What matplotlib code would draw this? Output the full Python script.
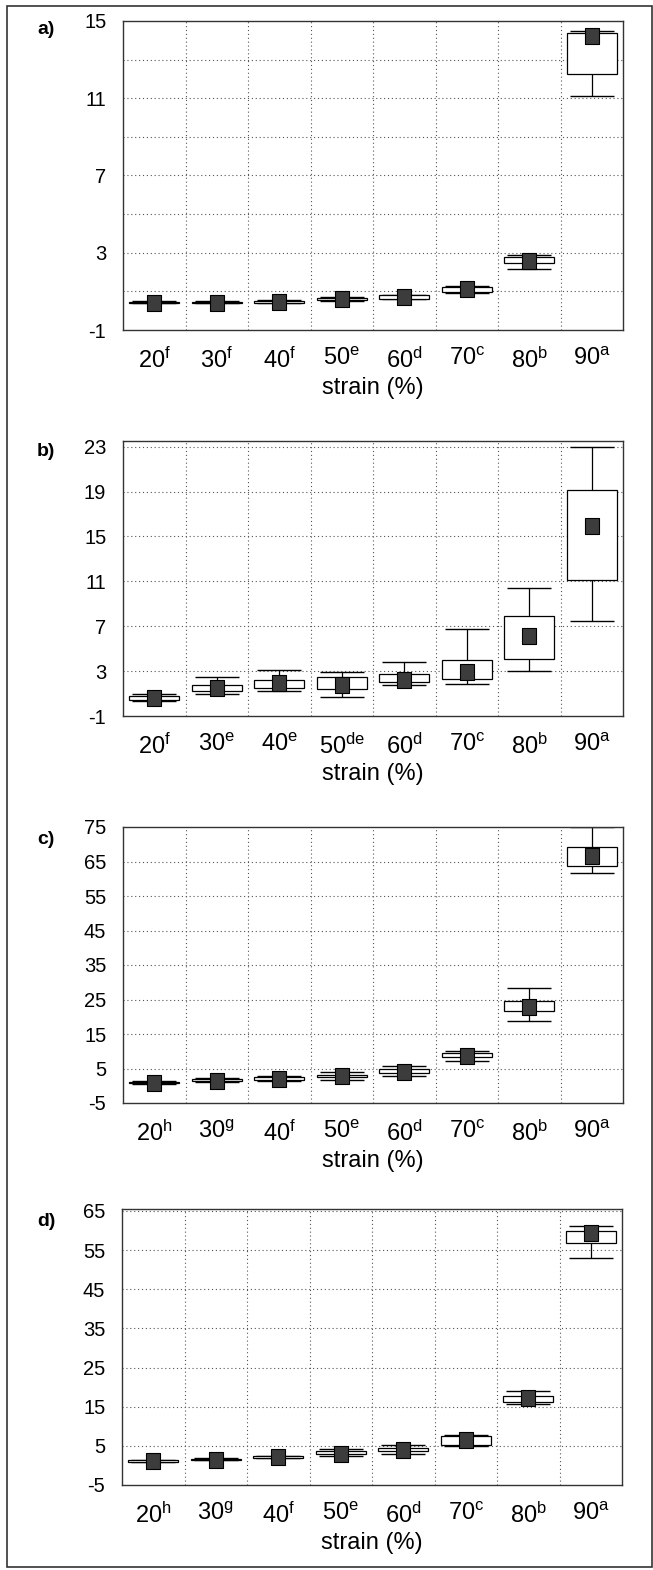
import matplotlib
matplotlib.use("Agg")
import matplotlib.pyplot as plt
from matplotlib.patches import Rectangle

# ---------------- data ----------------
cats = [20, 30, 40, 50, 60, 70, 80, 90]

letters_a = ["f", "f", "f", "e", "d", "c", "b", "a"]
mean_a   = [0.42, 0.42, 0.44, 0.62, 0.72, 1.12, 2.59, 14.2]
box_lo_a = [0.40, 0.40, 0.40, 0.53, 0.62, 0.95, 2.48, 12.26]
box_hi_a = [0.46, 0.46, 0.52, 0.66, 0.79, 1.23, 2.79, 14.4]
wlo_a    = [0.38, 0.38, 0.38, 0.50, 0.58, 0.90, 2.18, 11.1]
whi_a    = [0.48, 0.48, 0.55, 0.70, 0.82, 1.30, 2.90, 14.5]

letters_b = ["f", "e", "e", "de", "d", "c", "b", "a"]
mean_b   = [0.58, 1.52, 1.95, 1.75, 2.20, 2.95, 6.10, 15.9]
box_lo_b = [0.45, 1.20, 1.47, 1.40, 2.00, 2.32, 4.05, 11.15]
box_hi_b = [0.75, 1.80, 2.20, 2.44, 2.74, 3.95, 7.95, 19.15]
wlo_b    = [0.30, 0.95, 1.25, 0.72, 1.80, 1.82, 3.00, 7.5]
whi_b    = [0.95, 2.50, 3.08, 2.94, 3.83, 6.75, 10.4, 23.0]

letters_c = ["h", "g", "f", "e", "d", "c", "b", "a"]
mean_c   = [0.9, 1.4, 1.9, 2.9, 4.1, 8.7, 22.9, 66.5]
box_lo_c = [0.8, 1.3, 1.6, 2.5, 3.6, 8.4, 21.6, 63.8]
box_hi_c = [1.2, 1.9, 2.4, 3.2, 4.8, 9.5, 24.5, 69.1]
wlo_c    = [0.6, 1.1, 1.3, 1.8, 2.8, 7.2, 18.9, 61.6]
whi_c    = [1.4, 2.2, 2.8, 4.0, 5.8, 10.2, 28.3, 74.9]

letters_d = ["h", "g", "f", "e", "d", "c", "b", "a"]
mean_d   = [1.1, 1.5, 2.1, 3.0, 4.0, 6.5, 17.3, 59.3]
box_lo_d = [1.0, 1.4, 1.9, 2.9, 3.6, 5.2, 16.2, 56.7]
box_hi_d = [1.3, 1.7, 2.3, 3.8, 4.5, 7.4, 17.8, 60.0]
wlo_d    = [0.9, 1.3, 1.8, 2.5, 2.9, 5.0, 15.6, 52.9]
whi_d    = [1.4, 1.8, 2.4, 4.3, 5.2, 7.8, 18.9, 61.2]

yticks_a = [-1, 3, 7, 11, 15]
ygrid_a = [1, 3, 5, 7, 9, 11, 13]
yticks_b = [-1, 3, 7, 11, 15, 19, 23]
yticks_c = [-5, 5, 15, 25, 35, 45, 55, 65, 75]
yticks_d = [-5, 5, 15, 25, 35, 45, 55, 65]
xlabel = "strain (%)"

# ---------------- fonts ----------------
plt.rcParams["font.family"] = ["Liberation Sans", "DejaVu Sans"]
plt.rcParams["mathtext.fontset"] = "custom"
plt.rcParams["mathtext.rm"] = "Liberation Sans"
plt.rcParams["mathtext.it"] = "Liberation Sans:italic"
plt.rcParams["mathtext.bf"] = "Liberation Sans:bold"

W, H = 653, 1570
DPI = 100
fig = plt.figure(figsize=(W / DPI, H / DPI), dpi=DPI)
fig.patch.set_facecolor("white")

# outer frame
fig.patches.append(Rectangle((7 / W, 1 - 1567 / H), (652 - 7) / W, (1567 - 6) / H,
                             transform=fig.transFigure, fill=False,
                             edgecolor="#333333", linewidth=1.2))

rect_marker = [(-0.42, -0.5), (0.42, -0.5), (0.42, 0.5), (-0.42, 0.5), (-0.42, -0.5)]


def px_axes(left, top, right, bottom):
    return fig.add_axes([left / W, 1 - bottom / H, (right - left) / W, (bottom - top) / H])


def panel(ax, letters, mean, blo, bhi, wlo, whi, ylim, yticks, ygrid, label, lab_y):
    xs = list(range(1, len(cats) + 1))
    ax.set_xlim(0.5, len(cats) + 0.5)
    ax.set_ylim(*ylim)
    for g in ygrid:
        ax.axhline(g, color="#555555", lw=0.8, ls=(0, (1, 2.5)), zorder=0)
    for xb in [i + 0.5 for i in range(1, len(cats))]:
        ax.axvline(xb, color="#555555", lw=0.8, ls=(0, (1, 2.5)), zorder=0)
    ax.vlines(xs, wlo, whi, color="black", lw=0.9, zorder=2)
    ax.hlines(wlo, [x - 0.35 for x in xs], [x + 0.35 for x in xs], color="black", lw=1.0, zorder=2)
    ax.hlines(whi, [x - 0.35 for x in xs], [x + 0.35 for x in xs], color="black", lw=1.0, zorder=2)
    heights = [h - l for l, h in zip(blo, bhi)]
    ax.bar(xs, heights, bottom=blo, width=0.8, facecolor="white", edgecolor="black",
           linewidth=0.9, zorder=3)
    ax.plot(xs, mean, ls="none", marker=rect_marker, markersize=12,
            markerfacecolor="#3c3c3c", markeredgecolor="black", markeredgewidth=0.8, zorder=4)
    ax.set_yticks(yticks)
    ax.set_yticklabels([str(t) for t in yticks])
    ax.set_xticks(xs)
    ax.set_xticklabels([r"$\mathrm{%d}^{\mathrm{%s}}$" % (c, l) for c, l in zip(cats, letters)])
    ax.tick_params(axis="both", length=0)
    ax.tick_params(axis="y", labelsize=14.5, pad=12)
    ax.tick_params(axis="x", labelsize=17, pad=13)
    for s in ax.spines.values():
        s.set_color("#333333")
        s.set_linewidth(1.0)
    ax.set_xlabel(xlabel, fontsize=17, labelpad=3)
    fig.text(46 / W, 1 - lab_y / H, label, fontsize=14, fontweight="bold",
             ha="center", va="center")


axa = px_axes(123, 21, 623, 330)
panel(axa, letters_a, mean_a, box_lo_a, box_hi_a, wlo_a, whi_a, (-1, 15), yticks_a, ygrid_a, "a)", 30)

axb = px_axes(123, 441, 623, 716)
panel(axb, letters_b, mean_b, box_lo_b, box_hi_b, wlo_b, whi_b, (-1, 23.5), yticks_b, yticks_b[1:], "b)", 452)

axc = px_axes(123, 827, 623, 1103)
panel(axc, letters_c, mean_c, box_lo_c, box_hi_c, wlo_c, whi_c, (-5, 75), yticks_c, yticks_c[1:-1], "c)", 840)

axd = px_axes(122, 1209, 622, 1485)
panel(axd, letters_d, mean_d, box_lo_d, box_hi_d, wlo_d, whi_d, (-5, 65.5), yticks_d, yticks_d[1:], "d)", 1222)

fig.savefig("out.png", dpi=DPI, facecolor="white")
